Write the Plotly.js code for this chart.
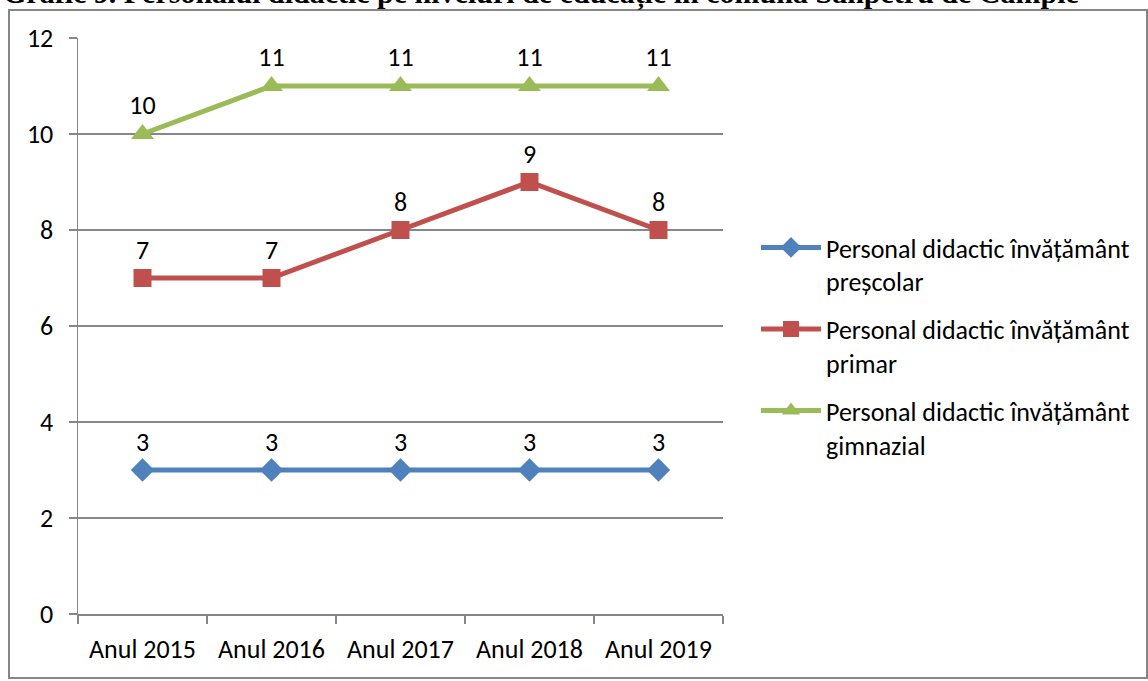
<!DOCTYPE html>
<html><head><meta charset="utf-8">
<script src="https://cdn.plot.ly/plotly-3.0.1.min.js"></script>
<style>html,body{margin:0;padding:0;background:#fff;}#chart{width:1148px;height:681px;}</style>
</head><body><div id="chart"></div>
<script>
const categories = ["Anul 2015", "Anul 2016", "Anul 2017", "Anul 2018", "Anul 2019"];
const seriesNames = [
  "Personal didactic învățământ<br>preșcolar",
  "Personal didactic învățământ<br>primar",
  "Personal didactic învățământ<br>gimnazial"
];
const prescolar = [3, 3, 3, 3, 3];
const primar = [7, 7, 8, 9, 8];
const gimnazial = [10, 11, 11, 11, 11];
const yTicks = [0, 2, 4, 6, 8, 10, 12];
const titleText = "Grafic 9. Personalul didactic pe niveluri de educație în comuna Sânpetru de Câmpie";

const W = 1148, H = 681;
const L = 78, R = 425, T = 38, B = 67;
const pw = W - L - R, ph = H - T - B;
const px = v => (v - L) / pw;
const py = v => (H - B - v) / ph;

const font = "Carlito, Calibri, 'Open Sans', 'Noto Sans', sans-serif";
const fs = 26;
function mk(y, name, color, symbol, size, grp) {
  return {
    x: categories, y: y, name: name, type: 'scatter', mode: 'lines+markers+text',
    text: y.map(String), textposition: 'top center', legendgroup: grp,
    textfont: {size: fs, color: '#000', family: font},
    line: {color: color, width: 5},
    marker: {color: color, symbol: symbol, size: size},
    cliponaxis: false
  };
}
const data = [
  mk(prescolar, seriesNames[0], '#4F81BD', 'diamond', 18, 'g1'),
  mk(primar, seriesNames[1], '#C0504D', 'square', 18, 'g2'),
  mk(gimnazial, seriesNames[2], '#9BBB59', 'triangle-up', 20, 'g3')
];
const layout = {
  width: W, height: H,
  margin: {l: L, r: R, t: T, b: B, pad: 0},
  paper_bgcolor: '#fff', plot_bgcolor: '#fff',
  font: {family: font, size: fs, color: '#000'},
  showlegend: true,
  legend: {x: px(756), y: py(224), xanchor: 'left', yanchor: 'top',
    font: {size: fs, family: font}, itemwidth: 60, tracegroupgap: 11,
    bgcolor: 'rgba(0,0,0,0)', valign: 'top'},
  xaxis: {type: 'category', range: [-0.5, 4.5], tickson: 'boundaries',
    ticks: 'outside', ticklen: 8, tickcolor: '#868686', tickwidth: 1.5,
    showline: true, linecolor: '#868686', linewidth: 1.5, showgrid: false,
    ticklabelstandoff: 11,
    tickfont: {size: fs, family: font}, fixedrange: true},
  yaxis: {range: [0, 12], tickvals: yTicks, ticks: 'outside', ticklen: 8,
    tickcolor: '#868686', tickwidth: 1.5, showline: true, linecolor: '#868686',
    linewidth: 1.5, showgrid: true, gridcolor: '#868686', gridwidth: 1.5,
    ticklabelstandoff: 10,
    zeroline: false, tickfont: {size: fs, family: font}, fixedrange: true},
  shapes: [{type: 'rect', xref: 'paper', yref: 'paper',
    x0: px(9), x1: px(1147), y0: py(678), y1: py(10),
    line: {color: '#868686', width: 2}, fillcolor: 'rgba(0,0,0,0)', layer: 'below'}],
  annotations: [{text: titleText, xref: 'paper', yref: 'paper', x: px(541), y: py(13),
    xanchor: 'center', yanchor: 'bottom', showarrow: false,
    font: {family: "'Liberation Serif', 'Times New Roman', serif", size: 30, color: '#000', weight: 'bold'}}]
};
Plotly.newPlot('chart', data, layout, {displayModeBar: false, staticPlot: true});
</script></body></html>
